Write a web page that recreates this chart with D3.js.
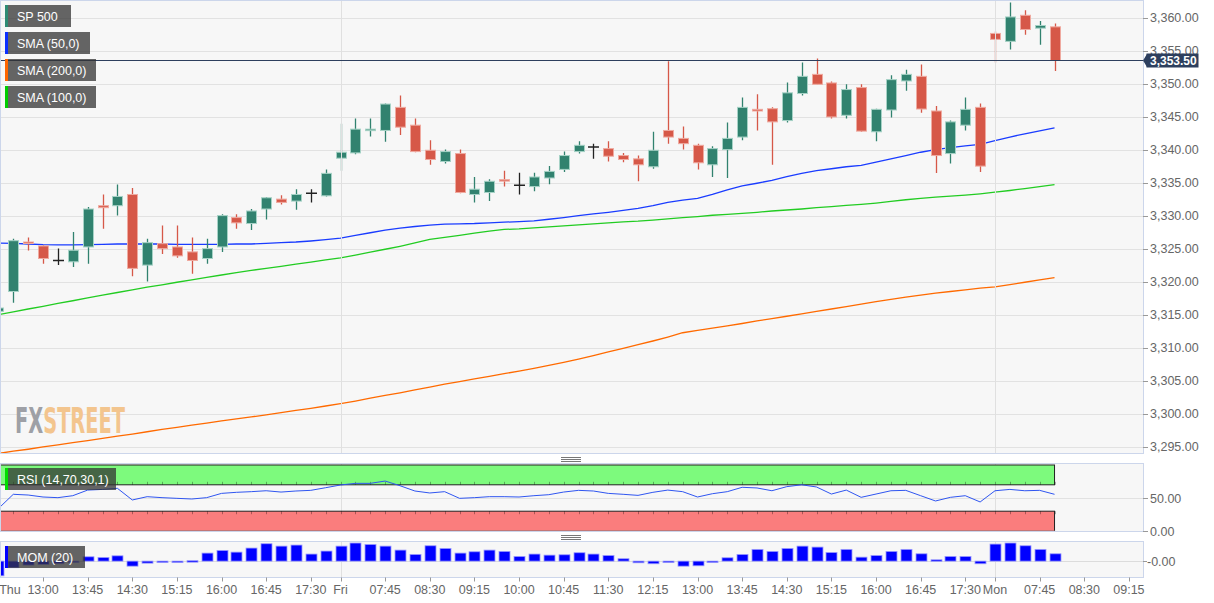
<!DOCTYPE html>
<html><head><meta charset="utf-8">
<script src="https://cdn.jsdelivr.net/npm/d3@7"></script>
<style>body{margin:0;background:#fff;} svg{display:block;font-family:"Liberation Sans",Arial,sans-serif;}</style>
</head><body><svg id="c" width="1214" height="603"></svg>
<script>
// ---------------- DATA ----------------
const openV = [3315.5,3318.5,3326.0,3325.4,3323.2,3323.0,3325.25,3331.5,3331.5,3333.2,3322.5,3325.75,3325.25,3324.5,3323.5,3325.25,3329.7,3328.8,3331.0,3332.5,3332.2,3333.4,3333.0,
3338.7,3339.5,3342.9,3342.9,3346.4,3343.7,3339.9,3338.2,3339.4,3333.2,3333.5,3335.45,3334.6,3334.4,3335.7,3337.0,3339.7,3340.4,3340.15,3339.1,3338.6,3337.4,3342.9,3341.7,3340.65,3337.7,3340.0,3341.9,3346.1,3346.2,3344.4,3348.5,3351.4,3350.1,3345.2,3349.4,3342.7,3346.0,3350.4,3351.1,3345.85,3339.4,3343.7,3346.4,
3357.6,3356.4,3360.35,3358.4,3358.6];
const highV = [3316.2,3326.5,3326.7,3325.5,3325.0,3327.5,3331.3,3333.2,3334.7,3334.2,3326.5,3328.5,3328.5,3326.7,3326.5,3330.2,3330.2,3331.0,3332.8,3333.1,3334.0,3334.0,3337.0,
3343.9,3344.7,3344.7,3347.0,3348.2,3344.7,3341.4,3340.0,3340.0,3335.85,3335.5,3336.8,3336.5,3336.5,3337.5,3339.7,3341.25,3340.9,3341.25,3339.5,3339.1,3342.7,3353.4,3343.5,3340.9,3340.5,3344.1,3347.9,3348.4,3346.4,3350.15,3353.2,3353.8,3350.3,3349.9,3349.9,3346.2,3351.25,3352.1,3352.9,3346.6,3344.4,3347.9,3347.0,
3357.9,3362.3,3361.1,3359.5,3359.1];
const lowV = [3313.5,3316.8,3324.7,3322.7,3322.5,3322.2,3322.7,3328.0,3330.0,3320.8,3320.0,3324.2,3323.6,3321.2,3322.7,3324.5,3328.0,3327.8,3329.4,3331.7,3330.9,3332.0,3332.9,
3336.8,3339.3,3342.0,3341.2,3342.2,3339.6,3337.7,3337.9,3333.4,3332.0,3332.2,3334.4,3333.2,3333.7,3334.75,3336.6,3339.4,3338.6,3338.2,3338.1,3335.2,3337.1,3340.9,3340.0,3337.0,3335.85,3335.7,3341.4,3342.9,3337.7,3344.1,3348.2,3349.9,3344.7,3344.7,3342.7,3341.25,3344.85,3348.9,3345.6,3336.45,3337.9,3342.9,3336.6,
3353.2,3355.15,3357.4,3355.9,3351.9];
const closeV = [3316.0,3326.2,3325.8,3323.5,3323.2,3324.75,3331.0,3331.2,3332.9,3322.0,3325.9,3325.0,3323.9,3323.2,3325.0,3330.0,3328.9,3330.7,3332.7,3332.0,3333.2,3333.4,3336.4,
3339.6,3343.1,3343.1,3346.9,3343.4,3339.7,3338.5,3339.7,3333.5,3334.0,3335.2,3335.25,3334.6,3335.85,3336.7,3339.1,3340.65,3340.4,3339.0,3338.5,3337.7,3339.9,3341.9,3340.9,3338.0,3340.15,3341.7,3346.4,3345.85,3344.2,3348.6,3351.1,3349.9,3344.95,3349.1,3342.8,3346.1,3350.6,3351.4,3346.15,3339.1,3344.2,3346.1,3337.5,
3356.7,3360.1,3358.2,3358.8,3353.5];

const sma50 = [3325.85,3325.8,3325.7,3325.6,3325.55,3325.55,3325.6,3325.65,3325.7,3325.7,3325.7,3325.7,3325.65,3325.65,3325.65,3325.65,3325.7,3325.7,3325.8,3325.9,3326.0,3326.15,3326.35,
3326.6,3327.0,3327.4,3327.8,3328.1,3328.35,3328.55,3328.7,3328.75,3328.8,3328.9,3329.0,3329.1,3329.2,3329.45,3329.7,3330.0,3330.25,3330.5,3330.8,3331.1,3331.5,3332.0,3332.35,3332.6,3333.2,3333.9,3334.5,3334.9,3335.35,3335.9,3336.4,3336.8,3337.1,3337.4,3337.6,3338.1,3338.6,3339.1,3339.6,3340.0,3340.3,3340.55,3340.8,
3341.35,3341.9,3342.4,3342.85,3343.3];
const sma100 = [3315.0,3315.4,3315.85,3316.25,3316.7,3317.1,3317.55,3317.95,3318.35,3318.75,3319.15,3319.5,3319.9,3320.25,3320.65,3321.0,3321.35,3321.7,3322.0,3322.3,3322.65,3322.95,3323.3,
3323.6,3324.0,3324.45,3324.9,3325.35,3325.85,3326.4,3326.7,3327.0,3327.35,3327.65,3327.9,3328.0,3328.15,3328.3,3328.45,3328.6,3328.75,3328.9,3329.05,3329.15,3329.3,3329.5,3329.7,3329.85,3330.05,3330.2,3330.35,3330.5,3330.7,3330.85,3331.0,3331.2,3331.35,3331.55,3331.7,3331.9,3332.15,3332.4,3332.6,3332.8,3332.95,3333.1,3333.3,
3333.55,3333.8,3334.1,3334.4,3334.7];
const sma200 = [3293.95,3294.3,3294.6,3294.95,3295.25,3295.6,3295.9,3296.25,3296.6,3296.9,3297.25,3297.6,3297.9,3298.25,3298.55,3298.9,3299.2,3299.5,3299.8,3300.15,3300.5,3300.8,3301.15,
3301.5,3301.9,3302.35,3302.75,3303.15,3303.6,3304.0,3304.45,3304.85,3305.25,3305.65,3306.05,3306.45,3306.85,3307.3,3307.75,3308.25,3308.8,3309.35,3309.9,3310.45,3311.0,3311.6,3312.25,3312.6,3312.95,3313.3,3313.65,3314.05,3314.4,3314.75,3315.1,3315.5,3315.85,3316.2,3316.6,3316.95,3317.3,3317.65,3317.95,3318.25,3318.5,3318.75,3319.0,
3319.2,3319.55,3319.9,3320.25,3320.6];

const rsiV = [34,55.6,54.5,51.5,50.5,53.5,62,63,64.7,47,52,50.5,49.5,48.5,50.5,57,58.6,59.6,61,59,60.6,61.6,65.6,
69.7,72.2,72.2,75.7,68.6,60.6,57.6,59.6,49.5,50.5,52,52,51.5,53.5,55,59,61.6,60.6,57,55.6,54,58.6,62,59.6,51.5,56.5,59.6,66.2,65.2,61,67.2,70,66.7,56,62,51,56,61,61.6,53.5,45.5,51,53.5,44,
61,63,61,61.6,55.6];
const momV = [-16.7,-7.5,-4.5,-3.8,-3,-1.5,4.9,4.2,6,-5.7,-2.3,-1.5,-1.5,0.5,9.1,12.1,10.2,14.8,19.7,17,18.2,8,11.4,
17,20.5,18.9,17,12.5,7.6,17.4,14.4,9.1,10.6,12.5,11,5.3,8,6.8,7.2,9.5,8,6.4,2.7,-1.9,-3,-1.1,-5.7,-5.3,-0.3,3.8,7.6,13.3,11,14.4,17,15.9,9.8,13.3,4.5,6.4,11,13.3,8.3,1.5,5.3,5.3,-3,
19.3,20.5,17.4,13.3,8.3];

const priceTicks = [3295,3300,3305,3310,3315,3320,3325,3330,3335,3340,3345,3350,3355,3360];
const rsiTicks = [0,50];
const rsiLevels = [30,70];
const momTicks = [0];
const xTickIdx = [0,3,6,9,12,15,18,21,23,26,29,32,35,38,41,44,47,50,53,56,59,62,65,67,70,73,76];
const xTickLabels = ["Thu","13:00","13:45","14:30","15:15","16:00","16:45","17:30","Fri","07:45","08:30","09:15","10:00","10:45","11:30","12:15","13:00","13:45","14:30","15:15","16:00","16:45","17:30","Mon","07:45","08:30","09:15"];
const dayStartIdx = [23,67];
const legendNames = ["SP 500","SMA (50,0)","SMA (200,0)","SMA (100,0)"];
const lastPrice = 3353.5;

// ---------------- LAYOUT ----------------
const svg = d3.select("#c");
const PL = 0, PR = 1143;
const main = {top:0.5, bottom:453.5};
const rsiP = {top:463.5, bottom:531.5};
const momP = {top:541.5, bottom:577.5};
const gridC = "#e2e2e2", frameC = "#ccd6eb", txtC = "#666";
const barIndex = d3.range(openV.length);

const x = d3.scaleLinear().domain([0,76]).range([-1.6, -1.6 + 76*14.875]);
const y = d3.scaleLinear().domain([3295,3360]).range([446.6,17.6]);
const yr = d3.scaleLinear().domain([0,100]).range([531,465]);
const ym = d3.scaleLinear().domain([-18,22]).range([577,541.7]);

const defs = svg.append("defs");
[["cMain",main],["cRsi",rsiP],["cMom",momP]].forEach(([id,p])=>{
  defs.append("clipPath").attr("id",id).append("rect")
    .attr("x",PL+0.5).attr("y",p.top).attr("width",PR-PL-0.5).attr("height",p.bottom-p.top);
});

[main,rsiP,momP].forEach(p=>{
  svg.append("rect").attr("x",PL+0.5).attr("y",p.top).attr("width",PR-PL).attr("height",p.bottom-p.top)
    .attr("fill","#f7f7f7");
});

// ---------------- MAIN PANEL ----------------
const gM = svg.append("g").attr("clip-path","url(#cMain)");
gM.selectAll("line.g").data(priceTicks).join("line")
  .attr("x1",PL).attr("x2",PR).attr("y1",d=>Math.round(y(d))+0.5).attr("y2",d=>Math.round(y(d))+0.5)
  .attr("stroke",gridC).attr("stroke-width",1);
[main,rsiP,momP].forEach(p=>{
  svg.selectAll(null).data(dayStartIdx).join("line")
    .attr("x1",d=>Math.round(x(d))+0.5).attr("x2",d=>Math.round(x(d))+0.5)
    .attr("y1",p.top).attr("y2",p.bottom).attr("stroke","#e0e0e0");
});

// watermark (single text, two tspans)
const wm = gM.append("text").attr("x",15).attr("y",433)
  .attr("font-family","'DejaVu Sans Condensed','DejaVu Sans',sans-serif").attr("font-weight","bold").attr("font-size",35)
  .attr("textLength",110).attr("lengthAdjust","spacingAndGlyphs");
wm.append("tspan").attr("fill","#9ea0a6").text("FX");
wm.append("tspan").attr("fill","#f3c58e").text("STREET");

// SMA lines
const line = arr => d3.line().x((d,i)=>x(i)).y(d=>y(d))(arr);
[[sma200,"#ff6a00"],[sma100,"#22cc22"],[sma50,"#1a3cff"]].forEach(([arr,c])=>{
  gM.append("path").attr("d",line(arr)).attr("fill","none").attr("stroke",c).attr("stroke-width",1.3);
});

// candles
const GREEN="#31826f", RED="#d65848", GREEN_E="#a6d2c6", RED_E="#efaaa0";
const cg = gM.append("g");
barIndex.forEach(i=>{
  const o=openV[i], c=closeV[i], h=highV[i], l=lowV[i];
  const doji = Math.abs(o-c) < 0.01;
  const col = doji ? "#222" : (c>o ? GREEN : RED);
  const xc = Math.round(x(i))+0.5;
  cg.append("line").attr("x1",xc).attr("x2",xc).attr("y1",y(h)).attr("y2",y(l)).attr("stroke",col).attr("stroke-width",1.3);
  if(doji){
    cg.append("line").attr("x1",xc-5.5).attr("x2",xc+5.5).attr("y1",y(o)).attr("y2",y(o)).attr("stroke",col).attr("stroke-width",1.5);
  } else {
    const top = y(Math.max(o,c)), bot = y(Math.min(o,c));
    cg.append("rect").attr("x",xc-5).attr("y",top).attr("width",10).attr("height",Math.max(1.5,bot-top))
      .attr("fill",col).attr("stroke",c>o?GREEN_E:RED_E).attr("stroke-width",1);
  }
});

// price line
const py = Math.round(y(lastPrice))+0.5;
svg.append("line").attr("x1",PL).attr("x2",PR).attr("y1",py).attr("y2",py).attr("stroke","#2d3f5e").attr("stroke-width",1.2);

// legend
const legColors = ["#2e8b74","#0a2fff","#ff6600","#00cc00"];
const legW = [66,85,91,91];
legendNames.forEach((n,k)=>{
  const ly = 5 + k*27;
  svg.append("rect").attr("x",5).attr("y",ly).attr("width",legW[k]).attr("height",22).attr("fill","#333").attr("opacity",0.75);
  svg.append("rect").attr("x",5).attr("y",ly).attr("width",3).attr("height",22).attr("fill",legColors[k]);
  svg.append("text").attr("x",17).attr("y",ly+15.5).attr("fill","#fff").attr("font-size",12.5).text(n);
});

svg.append("rect").attr("x",PL+0.5).attr("y",main.top).attr("width",PR-PL).attr("height",main.bottom-main.top)
  .attr("fill","none").attr("stroke",frameC);

// y axis labels
svg.selectAll("line.yt").data(priceTicks).join("line")
  .attr("x1",PR).attr("x2",PR+5).attr("y1",d=>Math.round(y(d))+0.5).attr("y2",d=>Math.round(y(d))+0.5).attr("stroke","#999");
svg.selectAll("text.yl").data(priceTicks).join("text")
  .attr("x",PR+7).attr("y",d=>y(d)+4.5).attr("fill",txtC).attr("font-size",12.5)
  .text(d=>d3.format(",.2f")(d));

// price tag
svg.append("path").attr("d",`M${PR},${py} L${PR+4},${py-6.5} L${PR+4},${py+6.5} Z`).attr("fill","#2d3f5e");
svg.append("rect").attr("x",PR+3.5).attr("y",py-7).attr("width",52).attr("height",14).attr("fill","#2d3f5e");
svg.append("text").attr("x",PR+7).attr("y",py+4.5).attr("fill","#fff").attr("font-size",12).attr("font-weight","bold").text(d3.format(",.2f")(lastPrice));

// ---------------- RSI PANEL ----------------
const gR = svg.append("g").attr("clip-path","url(#cRsi)");
gR.selectAll("line.g").data(rsiTicks).join("line")
  .attr("x1",PL).attr("x2",PR).attr("y1",d=>Math.round(yr(d))+0.5).attr("y2",d=>Math.round(yr(d))+0.5).attr("stroke",gridC);
const bandEnd = x(barIndex[barIndex.length-1]);
gR.append("rect").attr("x",-1).attr("y",yr(100)).attr("width",bandEnd+1).attr("height",yr(rsiLevels[1])-yr(100))
  .attr("fill","#7dfa7d").attr("stroke","#222").attr("stroke-width",1);
gR.append("rect").attr("x",0.5).attr("y",yr(rsiLevels[0])).attr("width",bandEnd-0.5).attr("height",yr(0)-yr(rsiLevels[0]))
  .attr("fill","#fa7d7d").attr("stroke","#222").attr("stroke-width",1);
gR.append("line").attr("x1",0).attr("x2",bandEnd).attr("y1",yr(0)).attr("y2",yr(0)).attr("stroke","#f5a0a0");
gR.selectAll("line.bt").data(barIndex).join("line")
  .attr("x1",d=>Math.round(x(d))+0.5).attr("x2",d=>Math.round(x(d))+0.5)
  .attr("y1",yr(rsiLevels[1])).attr("y2",yr(rsiLevels[1])-3).attr("stroke","#000").attr("opacity",0.3);
gR.selectAll("line.bt2").data(barIndex).join("line")
  .attr("x1",d=>Math.round(x(d))+0.5).attr("x2",d=>Math.round(x(d))+0.5)
  .attr("y1",yr(rsiLevels[0])).attr("y2",yr(rsiLevels[0])+3).attr("stroke","#000").attr("opacity",0.3);
gR.append("path").attr("d",d3.line().x((d,i)=>x(i)).y(d=>yr(d))(rsiV)).attr("fill","none").attr("stroke","#2f55f0").attr("stroke-width",1);
svg.append("rect").attr("x",PL+0.5).attr("y",rsiP.top).attr("width",PR-PL).attr("height",rsiP.bottom-rsiP.top).attr("fill","none").attr("stroke",frameC);
svg.selectAll("line.rt").data(rsiTicks).join("line")
  .attr("x1",PR).attr("x2",PR+5).attr("y1",d=>Math.round(yr(d))+0.5).attr("y2",d=>Math.round(yr(d))+0.5).attr("stroke","#999");
svg.selectAll("text.rl").data(rsiTicks).join("text")
  .attr("x",PR+7).attr("y",d=>yr(d)+4.5).attr("fill",txtC).attr("font-size",12.5).text(d=>d3.format(".2f")(d));
svg.append("rect").attr("x",5).attr("y",468).attr("width",111).attr("height",22).attr("fill","#333").attr("opacity",0.75);
svg.append("rect").attr("x",5).attr("y",468).attr("width",3).attr("height",22).attr("fill","#00dd00");
svg.append("text").attr("x",17).attr("y",483.5).attr("fill","#fff").attr("font-size",12.5).text("RSI (14,70,30,1)");

// ---------------- MOM PANEL ----------------
const gMo = svg.append("g").attr("clip-path","url(#cMom)");
gMo.selectAll("line.g").data(momTicks).join("line")
  .attr("x1",PL).attr("x2",PR).attr("y1",d=>Math.round(ym(d))+0.5).attr("y2",d=>Math.round(ym(d))+0.5).attr("stroke","#dcdcdc");
gMo.selectAll("rect.m").data(momV).join("rect")
  .attr("x",(d,i)=>Math.round(x(i))-5).attr("width",11)
  .attr("y",d=>Math.min(ym(d),ym(0))).attr("height",d=>Math.max(1.5,Math.abs(ym(d)-ym(0))))
  .attr("fill","#0000ff").attr("stroke","#9a9aff").attr("stroke-width",0.8);
svg.append("rect").attr("x",PL+0.5).attr("y",momP.top).attr("width",PR-PL).attr("height",momP.bottom-momP.top).attr("fill","none").attr("stroke",frameC);
svg.selectAll("line.mt").data(momTicks).join("line")
  .attr("x1",PR).attr("x2",PR+4).attr("y1",d=>Math.round(ym(d))+0.5).attr("y2",d=>Math.round(ym(d))+0.5).attr("stroke","#999");
svg.selectAll("text.ml").data(momTicks).join("text")
  .attr("x",PR+4).attr("y",d=>ym(d)+4.5).attr("fill",txtC).attr("font-size",12.5).text("-0.00");
svg.append("rect").attr("x",5).attr("y",546).attr("width",80).attr("height",22).attr("fill","#333").attr("opacity",0.75);
svg.append("rect").attr("x",5).attr("y",546).attr("width",3).attr("height",22).attr("fill","#0000ff");
svg.append("text").attr("x",17).attr("y",561.5).attr("fill","#fff").attr("font-size",12.5).text("MOM (20)");

// grips
[459,537].forEach(gy=>{
  [-2,0,2].forEach(o=>{
    svg.append("line").attr("x1",561).attr("x2",581).attr("y1",gy+o+0.5).attr("y2",gy+o+0.5).attr("stroke","#777");
  });
});

// ---------------- X AXIS ----------------
svg.selectAll("line.xt").data(xTickIdx).join("line")
  .attr("x1",d=>Math.round(x(d))+0.5).attr("x2",d=>Math.round(x(d))+0.5)
  .attr("y1",momP.bottom).attr("y2",momP.bottom+4).attr("stroke","#999");
svg.selectAll("text.xl").data(xTickIdx).join("text")
  .attr("x",(d,k)=>k===0 ? Math.max(x(d),10) : x(d))
  .attr("y",594).attr("text-anchor","middle").attr("fill",txtC).attr("font-size",12.5)
  .text((d,k)=>xTickLabels[k]);
</script></body></html>
